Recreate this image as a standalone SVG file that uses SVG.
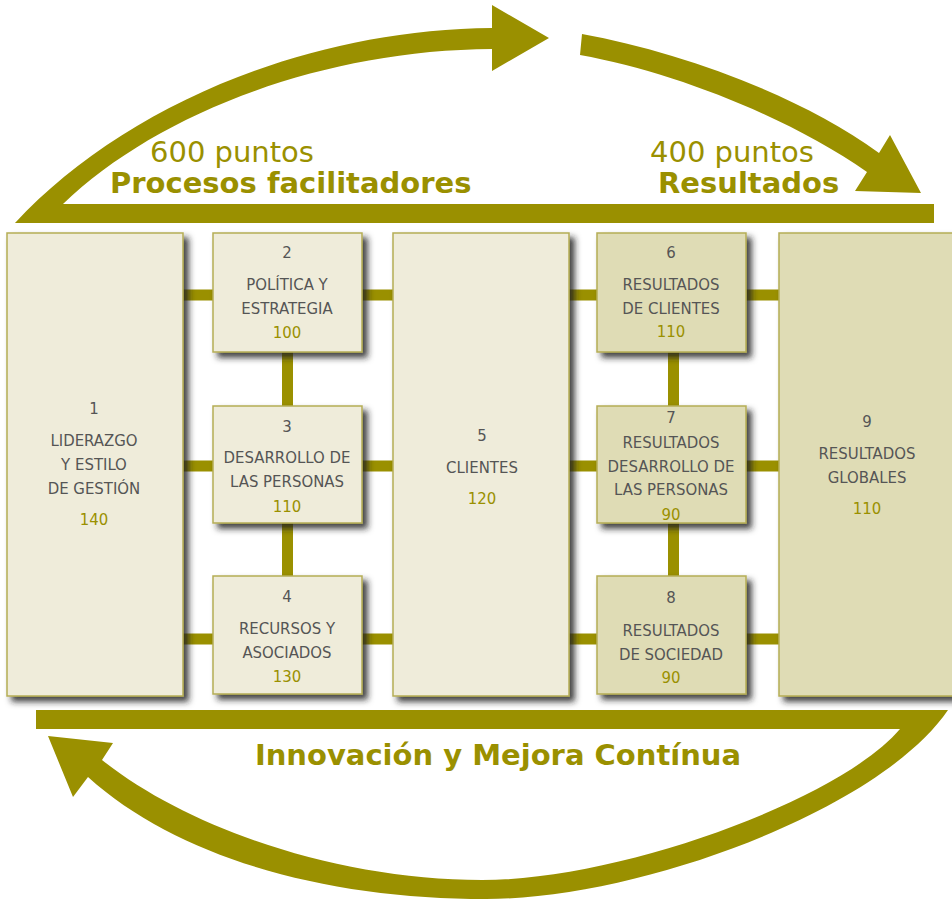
<svg xmlns="http://www.w3.org/2000/svg" width="952" height="899" viewBox="0 0 952 899">
<defs>
<filter id="sh" x="-10%" y="-10%" width="130%" height="130%">
<feDropShadow dx="5" dy="5" stdDeviation="3" flood-color="#1a1a1a" flood-opacity="0.85"/>
</filter>
</defs>
<style>
.arrow{fill:#9a9000}
.conn{stroke:#9a9000;stroke-width:11;fill:none}
.bl{fill:#efecda;stroke:#b5ad55;stroke-width:1.5;filter:url(#sh)}
.bd{fill:#dfdcb5;stroke:#b5ad55;stroke-width:1.5;filter:url(#sh)}
.t{font-family:'DejaVu Sans Condensed','DejaVu Sans',sans-serif;font-stretch:condensed;font-size:16.6px;fill:#555;text-anchor:middle}
.n{fill:#9a9000}
.big{font-family:'DejaVu Sans',Verdana,sans-serif;font-size:29px;fill:#9a9000}
.bold{font-weight:bold}
</style>
<rect width="952" height="899" fill="#fff"/>
<g id="arrows">
<path class="arrow" d="M15,223 C120,110 300,30 492,28 L492,5 L549,38 L492,71 L492,49 C320,50 155,115 63,204 L934,204 L934,223 Z"/>
<path class="arrow" d="M582,34 C680,52 800,95 879,153 L890,135 L921,193 L855,191 L867,172 C790,118 675,72 580,55 Z"/>
<path class="arrow" d="M36,710 L948,710 C880,810 640,899 486,899 C330,899 180,860 88,777 L73,797 L48,736 L113,743 L102,760 C190,830 340,880 482,880 C620,880 840,800 900,729 L36,729 Z"/>
</g>
<g id="titles">
<text class="big" x="150" y="162">600 puntos</text>
<text class="big bold" x="110" y="193">Procesos facilitadores</text>
<text class="big" x="650" y="162">400 puntos</text>
<text class="big bold" x="658" y="193">Resultados</text>
<text class="big bold" x="498" y="765" text-anchor="middle">Innovación y Mejora Contínua</text>
</g>
<g id="connectors">
<line class="conn" x1="183" y1="295" x2="779" y2="295"/>
<line class="conn" x1="183" y1="466" x2="779" y2="466"/>
<line class="conn" x1="183" y1="639" x2="779" y2="639"/>
<line class="conn" x1="287.5" y1="352" x2="287.5" y2="576"/>
<line class="conn" x1="673.5" y1="352" x2="673.5" y2="576"/>
</g>
<g id="node1">
<rect class="bl" x="7" y="233" width="176" height="463"/>
<text class="t" x="94" y="414">1</text>
<text class="t" x="94" y="446">LIDERAZGO</text>
<text class="t" x="94" y="470">Y ESTILO</text>
<text class="t" x="94" y="494">DE GESTIÓN</text>
<text class="t n" x="94" y="525">140</text>
</g>
<g id="node2">
<rect class="bl" x="213" y="233" width="149" height="119"/>
<text class="t" x="287" y="258">2</text>
<text class="t" x="287" y="290">POLÍTICA Y</text>
<text class="t" x="287" y="314">ESTRATEGIA</text>
<text class="t n" x="287" y="338">100</text>
</g>
<g id="node3">
<rect class="bl" x="213" y="406" width="149" height="117"/>
<text class="t" x="287" y="432">3</text>
<text class="t" x="287" y="463">DESARROLLO DE</text>
<text class="t" x="287" y="487">LAS PERSONAS</text>
<text class="t n" x="287" y="512">110</text>
</g>
<g id="node4">
<rect class="bl" x="213" y="576" width="149" height="118"/>
<text class="t" x="287" y="602">4</text>
<text class="t" x="287" y="634">RECURSOS Y</text>
<text class="t" x="287" y="658">ASOCIADOS</text>
<text class="t n" x="287" y="682">130</text>
</g>
<g id="node5">
<rect class="bl" x="393" y="233" width="176" height="463"/>
<text class="t" x="482" y="441">5</text>
<text class="t" x="482" y="473">CLIENTES</text>
<text class="t n" x="482" y="504">120</text>
</g>
<g id="node6">
<rect class="bd" x="597" y="233" width="149" height="119"/>
<text class="t" x="671" y="258">6</text>
<text class="t" x="671" y="290">RESULTADOS</text>
<text class="t" x="671" y="314">DE CLIENTES</text>
<text class="t n" x="671" y="337">110</text>
</g>
<g id="node7">
<rect class="bd" x="597" y="406" width="149" height="117"/>
<text class="t" x="671" y="423">7</text>
<text class="t" x="671" y="448">RESULTADOS</text>
<text class="t" x="671" y="472">DESARROLLO DE</text>
<text class="t" x="671" y="495">LAS PERSONAS</text>
<text class="t n" x="671" y="520">90</text>
</g>
<g id="node8">
<rect class="bd" x="597" y="576" width="149" height="118"/>
<text class="t" x="671" y="603">8</text>
<text class="t" x="671" y="636">RESULTADOS</text>
<text class="t" x="671" y="660">DE SOCIEDAD</text>
<text class="t n" x="671" y="683">90</text>
</g>
<g id="node9">
<rect class="bd" x="779" y="233" width="185" height="463"/>
<text class="t" x="867" y="427">9</text>
<text class="t" x="867" y="459">RESULTADOS</text>
<text class="t" x="867" y="483">GLOBALES</text>
<text class="t n" x="867" y="514">110</text>
</g>
</svg>
